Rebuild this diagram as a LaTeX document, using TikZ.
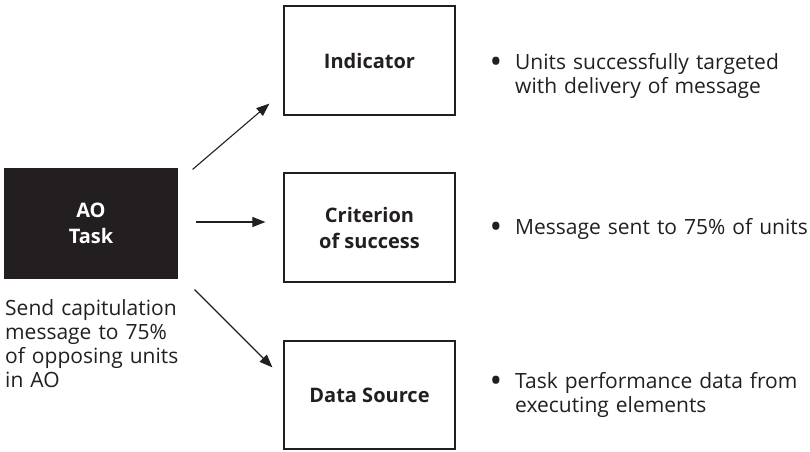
\documentclass[tikz,border=0pt]{standalone}
\usepackage{fontspec}
\setmainfont{Open Sans}
\usepackage{tikz}
\usetikzlibrary{calc}
\usetikzlibrary{arrows.meta}
\definecolor{inkdark}{HTML}{231F20}
\newcommand{\bulletline}[1]{\llap{\raisebox{-0.2em}{\scalebox{1.6}{\textbullet}}\hspace{13pt}}#1}
\tikzset{
  box/.style={draw=inkdark, line width=1.2pt, fill=white, minimum width=171pt, minimum height=109pt,
    inner sep=0pt, align=center, text=inkdark, font=\bfseries\fontsize{20}{26}\selectfont},
  taskbox/.style={box, fill=inkdark, draw=inkdark, text=white, minimum width=172pt},
  note/.style={anchor=north west, inner sep=0pt, align=left, text=inkdark, font=\fontsize{21}{24}\selectfont},
  conn/.style={draw=inkdark, line width=1.1pt, -{Triangle[length=13pt,width=10pt]}}
}
\begin{document}
\begin{tikzpicture}[x=1pt,y=-1pt]
            \useasboundingbox (0,0) rectangle (810,451);

            % boxes
            \node[taskbox] (task) at (91,223.5) {AO\\Task};
            \node[box] (indicator) at (369.5,60.5) {Indicator};
            \node[box] (criterion) at (369.5,227.5) {Criterion\\of success};
            \node[box, minimum height=108pt] (datasource) at (369.5,395) {Data Source};

            % arrows
            \draw[conn] ($(task.north east)+(15,1)$) -- ($(indicator.south west)+(-14,-12)$);
            \draw[conn] ([xshift=18pt]task.east |- 0,222) -- ([xshift=-18pt]criterion.west |- 0,222);
            \draw[conn] ($(task.south east)+(17,11)$) -- ($(datasource.north west)+(-11,27)$);

            % task text
            \node[note, text width=195pt] (tasktext) at (5,299) {Send capitulation\\message to 75\%\\of opposing units\\in AO};

            % bullets
            \node[note, text width=295pt] (indtext) at (515,53) {\bulletline{Units successfully targeted}\\with delivery of message};
            \node[note, text width=295pt] (crittext) at (515,218) {\bulletline{Message sent to 75\% of units}};
            \node[note, text width=295pt] (datatext) at (515,372) {\bulletline{Task performance data from}\\executing elements};

        \end{tikzpicture}
\end{document}
